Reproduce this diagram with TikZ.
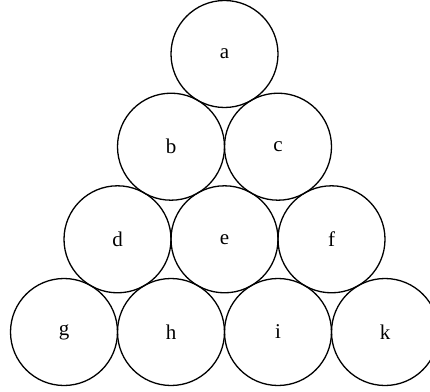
\documentclass[tikz,border=0pt]{standalone}
\usepackage{fontspec}
\setmainfont{Liberation Serif}
\usepackage{tikz}
\usetikzlibrary{positioning}
\tikzset{ball/.style={circle,draw,line width=1.3pt,minimum size=107pt,inner sep=0pt}}

\begin{document}
\begin{tikzpicture}[x=1pt,y=1pt,font=\fontsize{21}{25}\selectfont]
\useasboundingbox (0,0) rectangle (430,391);
\foreach \n/\x/\y in {a/224.5/337,
  b/171/244.3, c/278/244.3,
  d/117.5/151.7, e/224.5/151.7, f/331.5/151.7,
  g/64/59, h/171/59, i/278/59, k/385/59}
  \node[ball] (\n) at (\x,\y) {\n};
\end{tikzpicture}
\end{document}
